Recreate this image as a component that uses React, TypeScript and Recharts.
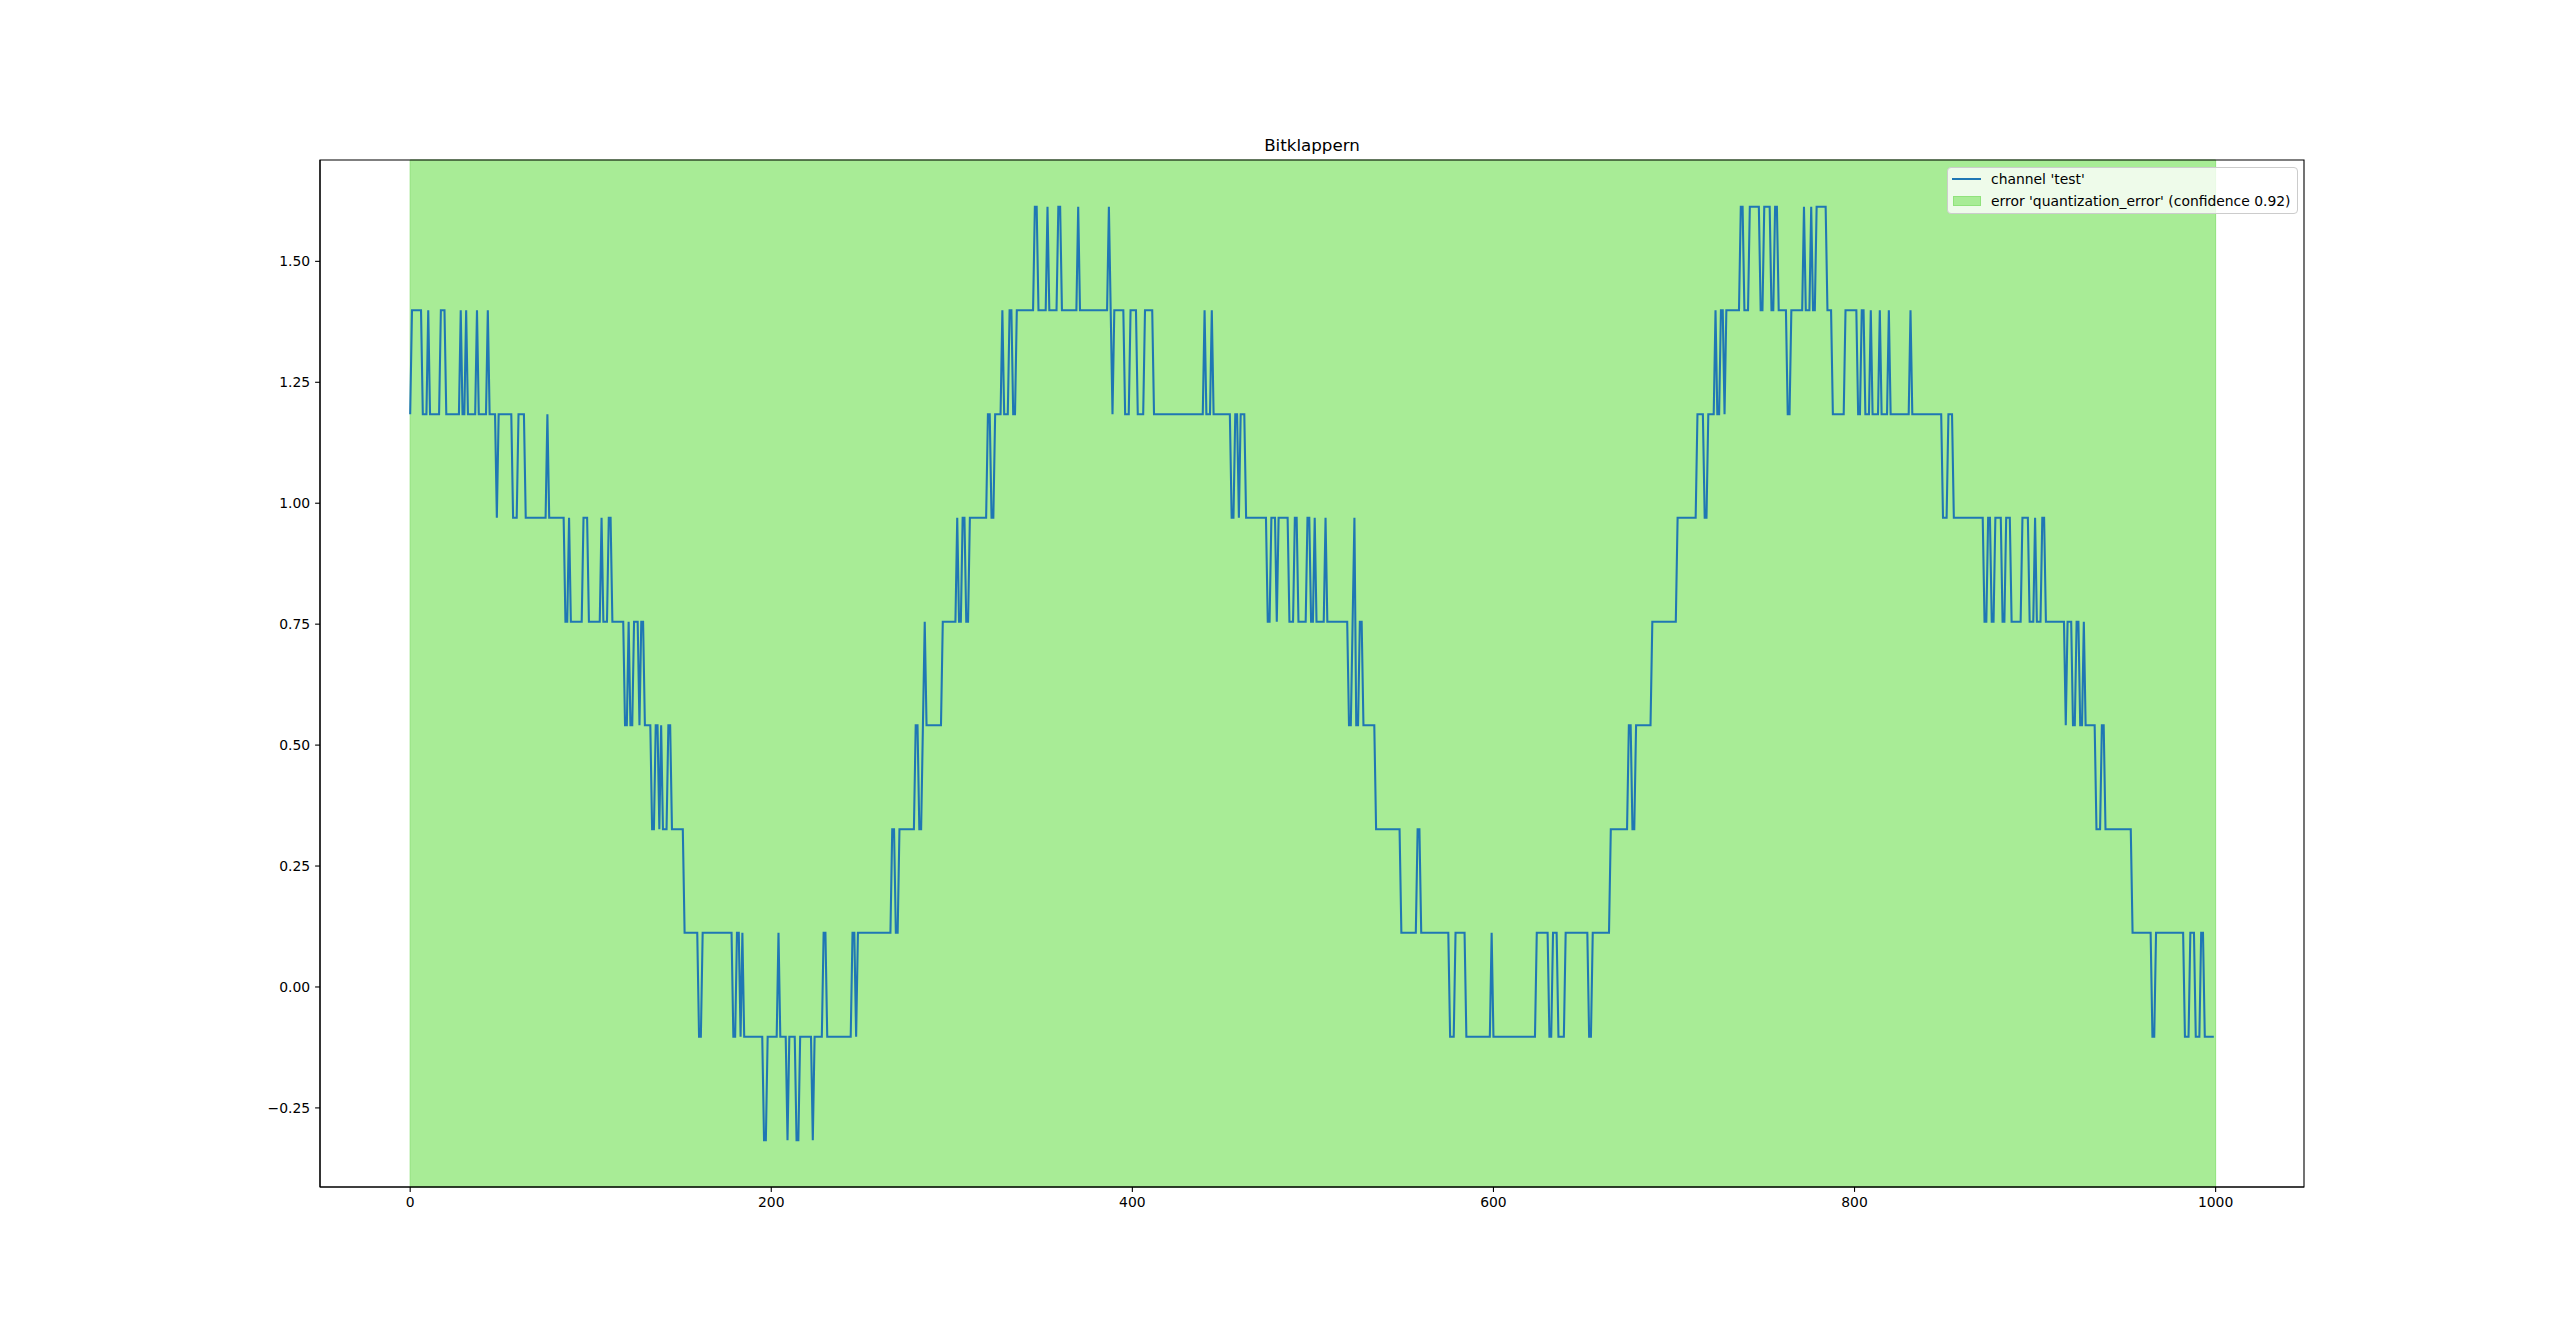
import { ComposedChart, Line, ReferenceArea, XAxis, YAxis } from "recharts";

// quantization levels of channel 'test'
const LEVELS = [-0.317, -0.103, 0.112, 0.326, 0.541, 0.755, 0.97, 1.184, 1.399, 1.613];

// runs: [first sample, last sample, level index]
const RUNS: [number, number, number][] = [
  [0, 0, 7], [1, 6, 8], [7, 9, 7], [10, 10, 8], [11, 16, 7], [17, 19, 8],
  [20, 27, 7], [28, 28, 8], [29, 30, 7], [31, 31, 8], [32, 36, 7], [37, 37, 8],
  [38, 42, 7], [43, 43, 8], [44, 47, 7], [48, 48, 6], [49, 56, 7], [57, 59, 6],
  [60, 63, 7], [64, 75, 6], [76, 76, 7], [77, 85, 6], [86, 87, 5], [88, 88, 6],
  [89, 95, 5], [96, 98, 6], [99, 105, 5], [106, 106, 6], [107, 109, 5], [110, 111, 6],
  [112, 118, 5], [119, 120, 4], [121, 121, 5], [122, 123, 4], [124, 126, 5], [127, 127, 4],
  [128, 129, 5], [130, 133, 4], [134, 135, 3], [136, 137, 4], [138, 138, 3], [139, 139, 4],
  [140, 142, 3], [143, 144, 4], [145, 151, 3], [152, 159, 2], [160, 161, 1], [162, 178, 2],
  [179, 180, 1], [181, 182, 2], [183, 183, 1], [184, 184, 2], [185, 195, 1], [196, 197, 0],
  [198, 203, 1], [204, 204, 2], [205, 208, 1], [209, 209, 0], [210, 213, 1], [214, 215, 0],
  [216, 222, 1], [223, 223, 0], [224, 228, 1], [229, 230, 2], [231, 244, 1], [245, 246, 2],
  [247, 247, 1], [248, 266, 2], [267, 268, 3], [269, 270, 2], [271, 279, 3], [280, 281, 4],
  [282, 283, 3], [284, 284, 4], [285, 285, 5], [286, 294, 4], [295, 302, 5], [303, 303, 6],
  [304, 305, 5], [306, 307, 6], [308, 309, 5], [310, 319, 6], [320, 321, 7], [322, 323, 6],
  [324, 327, 7], [328, 328, 8], [329, 331, 7], [332, 333, 8], [334, 335, 7], [336, 345, 8],
  [346, 347, 9], [348, 352, 8], [353, 353, 9], [354, 358, 8], [359, 360, 9], [361, 369, 8],
  [370, 370, 9], [371, 386, 8], [387, 387, 9], [388, 388, 8], [389, 389, 7], [390, 395, 8],
  [396, 398, 7], [399, 402, 8], [403, 406, 7], [407, 411, 8], [412, 439, 7], [440, 440, 8],
  [441, 443, 7], [444, 444, 8], [445, 454, 7], [455, 456, 6], [457, 458, 7], [459, 459, 6],
  [460, 462, 7], [463, 474, 6], [475, 476, 5], [477, 479, 6], [480, 480, 5], [481, 486, 6],
  [487, 489, 5], [490, 491, 6], [492, 496, 5], [497, 498, 6], [499, 500, 5], [501, 501, 6],
  [502, 506, 5], [507, 507, 6], [508, 519, 5], [520, 521, 4], [522, 522, 5], [523, 523, 6],
  [524, 525, 4], [526, 527, 5], [528, 534, 4], [535, 548, 3], [549, 557, 2], [558, 559, 3],
  [560, 575, 2], [576, 578, 1], [579, 584, 2], [585, 598, 1], [599, 599, 2], [600, 623, 1],
  [624, 630, 2], [631, 632, 1], [633, 635, 2], [636, 639, 1], [640, 652, 2], [653, 654, 1],
  [655, 664, 2], [665, 674, 3], [675, 676, 4], [677, 678, 3], [679, 687, 4], [688, 701, 5],
  [702, 712, 6], [713, 716, 7], [717, 718, 6], [719, 722, 7], [723, 723, 8], [724, 725, 7],
  [726, 727, 8], [728, 728, 7], [729, 736, 8], [737, 738, 9], [739, 741, 8], [742, 747, 9],
  [748, 749, 8], [750, 753, 9], [754, 755, 8], [756, 757, 9], [758, 762, 8], [763, 764, 7],
  [765, 771, 8], [772, 772, 9], [773, 775, 8], [776, 776, 9], [777, 778, 8], [779, 784, 9],
  [785, 787, 8], [788, 794, 7], [795, 801, 8], [802, 803, 7], [804, 805, 8], [806, 808, 7],
  [809, 809, 8], [810, 813, 7], [814, 814, 8], [815, 818, 7], [819, 819, 8], [820, 830, 7],
  [831, 831, 8], [832, 848, 7], [849, 851, 6], [852, 854, 7], [855, 871, 6], [872, 873, 5],
  [874, 875, 6], [876, 877, 5], [878, 881, 6], [882, 883, 5], [884, 886, 6], [887, 892, 5],
  [893, 896, 6], [897, 899, 5], [900, 900, 6], [901, 903, 5], [904, 905, 6], [906, 916, 5],
  [917, 917, 4], [918, 920, 5], [921, 922, 4], [923, 924, 5], [925, 926, 4], [927, 927, 5],
  [928, 933, 4], [934, 936, 3], [937, 938, 4], [939, 953, 3], [954, 964, 2], [965, 966, 1],
  [967, 982, 2], [983, 985, 1], [986, 988, 2], [989, 991, 1], [992, 993, 2], [994, 999, 1],
];

// axvspan of the error region
const ERROR_SPAN = [0, 1000];

const X_TICKS = [0, 200, 400, 600, 800, 1000];
const Y_TICKS = [-0.25, 0, 0.25, 0.5, 0.75, 1, 1.25, 1.5];

const X_DOMAIN: [number, number] = [-49.95, 1048.95];
const Y_DOMAIN: [number, number] = [-0.4135, 1.7095];

const LINE_COLOR = "#1f77b4";
const SPAN_COLOR = "#a8ec96";
const SPAN_EDGE = "#90e27c";

const data = RUNS.flatMap(([first, last, level]) =>
  first === last
    ? [{ x: first, y: LEVELS[level] }]
    : [
        { x: first, y: LEVELS[level] },
        { x: last, y: LEVELS[level] },
      ],
);

function formatY(value: number): string {
  const text = Math.abs(value).toFixed(2);
  return value < 0 ? `\u2212${text}` : text;
}

const tickStyle = { fill: "#000", fontSize: 13.9 };

function LegendBox() {
  return (
    <div
      style={{
        position: "absolute",
        left: 1947,
        top: 167,
        width: 351,
        height: 47,
        boxSizing: "border-box",
        border: "1px solid #cccccc",
        borderRadius: 4,
        background: "rgba(255,255,255,0.8)",
        fontSize: 13.9,
        lineHeight: "16px",
        color: "#000",
      }}
    >
      <div
        style={{
          position: "absolute",
          left: 4,
          top: 10,
          width: 29,
          height: 2,
          background: LINE_COLOR,
        }}
      />
      <div style={{ position: "absolute", left: 43, top: 3, whiteSpace: "nowrap" }}>
        channel 'test'
      </div>
      <div
        style={{
          position: "absolute",
          left: 5,
          top: 28,
          width: 28,
          height: 10,
          boxSizing: "border-box",
          background: SPAN_COLOR,
          border: `1px solid ${SPAN_EDGE}`,
        }}
      />
      <div style={{ position: "absolute", left: 43, top: 25, whiteSpace: "nowrap" }}>
        error 'quantization_error' (confidence 0.92)
      </div>
    </div>
  );
}

export default function App() {
  return (
    <div
      style={{
        position: "absolute",
        left: 0,
        top: 0,
        width: 2560,
        height: 1334,
        background: "#fff",
        fontFamily: '"DejaVu Sans", sans-serif',
      }}
    >
      <div
        style={{
          position: "absolute",
          left: 320,
          top: 137,
          width: 1984,
          textAlign: "center",
          fontSize: 16.7,
          lineHeight: "16.7px",
          color: "#000",
        }}
      >
        Bitklappern
      </div>

      <ComposedChart
        width={2560}
        height={1334}
        data={data}
        margin={{ top: 160, right: 256, bottom: 87, left: 240 }}
      >
        <ReferenceArea
          x1={ERROR_SPAN[0]}
          x2={ERROR_SPAN[1]}
          y1={Y_DOMAIN[0]}
          y2={Y_DOMAIN[1]}
          fill={SPAN_COLOR}
          fillOpacity={1}
          stroke={SPAN_EDGE}
          strokeWidth={1}
        />

        <XAxis
          type="number"
          dataKey="x"
          domain={X_DOMAIN}
          ticks={X_TICKS}
          interval={0}
          allowDataOverflow
          height={60}
          tickSize={4.9}
          tickMargin={4.9}
          axisLine={{ stroke: "#000", strokeWidth: 1.1 }}
          tickLine={{ stroke: "#000", strokeWidth: 1.1 }}
          tick={tickStyle}
        />

        <YAxis
          type="number"
          domain={Y_DOMAIN}
          ticks={Y_TICKS}
          interval={0}
          allowDataOverflow
          width={80}
          tickSize={4.9}
          tickMargin={4.9}
          tickFormatter={formatY}
          axisLine={{ stroke: "#000", strokeWidth: 1.1 }}
          tickLine={{ stroke: "#000", strokeWidth: 1.1 }}
          tick={tickStyle}
        />

        <Line
          type="linear"
          dataKey="y"
          stroke={LINE_COLOR}
          strokeWidth={2.08}
          dot={false}
          activeDot={false}
          isAnimationActive={false}
        />

        {/* axes frame */}
        <ReferenceArea
          x1={X_DOMAIN[0]}
          x2={X_DOMAIN[1]}
          y1={Y_DOMAIN[0]}
          y2={Y_DOMAIN[1]}
          fill="none"
          stroke="#000"
          strokeWidth={1.1}
        />
      </ComposedChart>

      <LegendBox />
    </div>
  );
}
